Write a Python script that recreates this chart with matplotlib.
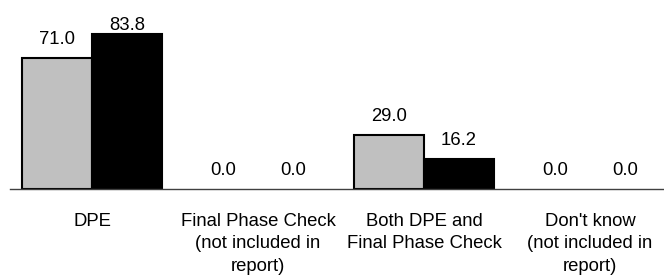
import matplotlib
matplotlib.use("Agg")
import matplotlib.pyplot as plt
import numpy as np

categories = ["DPE", "Final Phase Check\n(not included in\nreport)",
              "Both DPE and\nFinal Phase Check", "Don't know\n(not included in\nreport)"]
series_a = [71.0, 0.0, 29.0, 0.0]
series_b = [83.8, 0.0, 16.2, 0.0]

plt.rcParams['font.family'] = ['Liberation Sans', 'DejaVu Sans']
FS = 13.3

fig = plt.figure(figsize=(6.64, 2.75), dpi=100)
ax = fig.add_axes([10/664, 1 - 189/275, 1 - 10/664, 189/275])

x = np.arange(len(categories))
w = 0.42
ax.bar(x - w/2, series_a, w, color='#c0c0c0', edgecolor='black',
       linewidth=[1.5 if v > 0 else 0 for v in series_a], zorder=2)
ax.bar(x + w/2, series_b, w, color='black', edgecolor='black',
       linewidth=[1.5 if v > 0 else 0 for v in series_b], zorder=2)

ax.set_xlim(-82/166, (664 - 92)/166)
ymax = 189/1.845
ax.set_ylim(0, ymax)

# value labels
off = 14/1.845
top_lim = ymax - 16.7/1.845 - 13.3/1.845
for xs, vals in ((x - w/2, series_a), (x + w/2, series_b)):
    for xi, v in zip(xs, vals):
        y = min(v + off, top_lim)
        ax.text(xi, y, f"{v:.1f}", ha='center', va='baseline', fontsize=FS, color='black')

for s in ['top', 'right', 'left']:
    ax.spines[s].set_visible(False)
ax.spines['bottom'].set_color('#404040')
ax.spines['bottom'].set_linewidth(1.0)
ax.spines['bottom'].set_zorder(3)
ax.set_yticks([])
ax.set_xticks(x)
ax.set_xticklabels(categories, fontsize=FS, linespacing=1.45, color='black')
ax.tick_params(axis='x', length=0, pad=17)

fig.savefig("out.png", dpi=100)
